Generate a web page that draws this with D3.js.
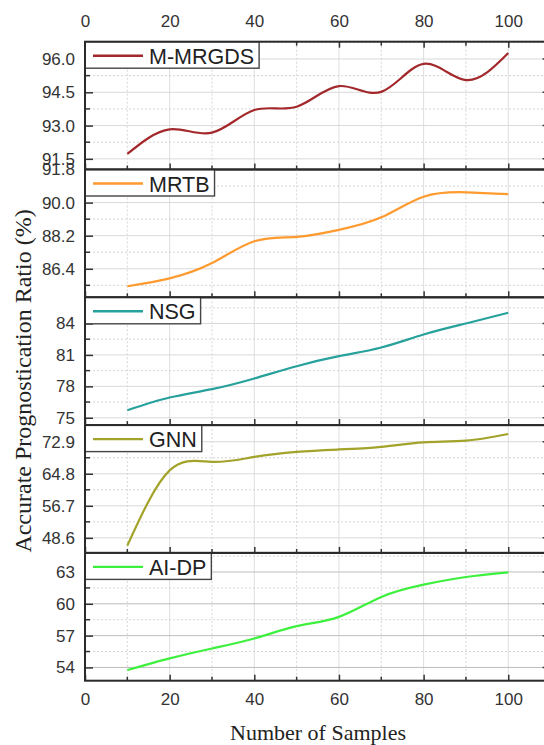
<!DOCTYPE html>
<html>
<head>
<meta charset="utf-8">
<script src="https://cdn.jsdelivr.net/npm/d3@7"></script>
<style>
  html, body { margin: 0; padding: 0; background: #fff; }
  svg { display: block; }
</style>
</head>
<body>
<div id="chart"></div>
<script>
// ---------------- data ----------------
const samples = [10, 20, 30, 40, 50, 60, 70, 80, 90, 100];
const xTickLabels = [0, 20, 40, 60, 80, 100];

const seriesNames = ["M-MRGDS", "MRTB", "NSG", "GNN", "AI-DP"];
const seriesColors = ["#a3282b", "#ff9a2e", "#27a19c", "#a3a22a", "#3ef03e"];

const mmrgds = [91.72, 92.83, 92.68, 93.70, 93.85, 94.78, 94.52, 95.78, 95.05, 96.27];
const mrtb   = [85.45, 85.88, 86.71, 87.90, 88.14, 88.52, 89.20, 90.32, 90.56, 90.46];
const nsg    = [75.72, 76.93, 77.73, 78.75, 79.92, 80.88, 81.71, 82.95, 84.00, 85.02];
const gnn    = [46.64, 65.65, 67.80, 69.06, 70.34, 70.94, 71.62, 72.73, 73.16, 74.86];
const aidp   = [53.75, 54.85, 55.79, 56.73, 57.89, 58.77, 60.65, 61.81, 62.53, 62.97];
const seriesValues = [mmrgds, mrtb, nsg, gnn, aidp];

const yTicks1 = [91.5, 93.0, 94.5, 96.0];
const yTicks2 = [86.4, 88.2, 90.0, 91.8];
const yTicks3 = [75, 78, 81, 84];
const yTicks4 = [48.6, 56.7, 64.8, 72.9];
const yTicks5 = [54, 57, 60, 63];
const yTicks = [yTicks1, yTicks2, yTicks3, yTicks4, yTicks5];
const yTickFormats = [".1f", ".1f", "d", ".1f", "d"];

const yDomain1 = [91.02, 96.78];
const yDomain2 = [84.85, 91.8];
const yDomain3 = [74.3, 86.5];
const yDomain4 = [44.8, 77.1];
const yDomain5 = [52.75, 64.8];
const yDomains = [yDomain1, yDomain2, yDomain3, yDomain4, yDomain5];

const xTitle = "Number of Samples";
const yTitle = "Accurate Prognostication Ratio (%)";

// ---------------- layout ----------------
const W = 544, H = 745;
const left = 85, right = 550.6;
const top0 = 41.7, panelH = 127.8;
const nP = seriesNames.length;
const sans = "Arial, 'Liberation Sans', sans-serif";
const serif = "'Liberation Serif', 'Times New Roman', serif";

const svg = d3.select("#chart").append("svg")
  .attr("width", W).attr("height", H)
  .style("font-family", sans);

const x = d3.scaleLinear().domain([0, 110]).range([left, right]);
const xMajor = d3.range(0, 111, 20);
const xMinor = d3.range(10, 111, 20);

const tickColor = "#333";

for (let i = 0; i < nP; i++) {
  const pTop = top0 + i * panelH;
  const pBot = pTop + panelH;
  const y = d3.scaleLinear().domain(yDomains[i]).range([pBot, pTop]);
  const g = svg.append("g");
  const ticks = yTicks[i];
  const step = ticks[1] - ticks[0];
  const minors = [];
  for (let k = -2; k < ticks.length + 2; k++) {
    const v = ticks[0] + (k + 0.5) * step;
    if (v > yDomains[i][0] && v < yDomains[i][1]) minors.push(v);
  }
  const gridCol = i === 4 ? "#bdbdbd" : "#d9d9d9";

  // vertical grid
  g.selectAll(".vgM").data(xMajor.filter(d => d > 0 && d < 110)).enter().append("line")
    .attr("x1", d => x(d)).attr("x2", d => x(d)).attr("y1", pTop).attr("y2", pBot)
    .attr("stroke", "#dedede").attr("stroke-width", 1);
  g.selectAll(".vgm").data(xMinor.filter(d => d < 110)).enter().append("line")
    .attr("x1", d => x(d)).attr("x2", d => x(d)).attr("y1", pTop).attr("y2", pBot)
    .attr("stroke", "#d6d6d6").attr("stroke-width", 1).attr("stroke-dasharray", "2,2");
  // horizontal grid
  g.selectAll(".hgM").data(ticks.filter(v => v > yDomains[i][0] && v < yDomains[i][1] - 0.01)).enter().append("line")
    .attr("x1", left).attr("x2", right).attr("y1", d => y(d)).attr("y2", d => y(d))
    .attr("stroke", gridCol).attr("stroke-width", 1);
  g.selectAll(".hgm").data(minors).enter().append("line")
    .attr("x1", left).attr("x2", right).attr("y1", d => y(d)).attr("y2", d => y(d))
    .attr("stroke", "#d6d6d6").attr("stroke-width", 1).attr("stroke-dasharray", "2,2");

  // line
  const line = d3.line().x((d, j) => x(samples[j])).y(d => y(d)).curve(d3.curveNatural);
  g.append("path").datum(seriesValues[i])
    .attr("d", line).attr("fill", "none")
    .attr("stroke", seriesColors[i]).attr("stroke-width", 2.2);

  // left axis (ticks inward)
  const yAxisL = d3.axisLeft(y).tickValues(ticks).tickSize(-8).tickPadding(10)
    .tickFormat(d3.format(yTickFormats[i]));
  const gl = g.append("g").attr("transform", `translate(${left},0)`).call(yAxisL);
  gl.select(".domain").remove();
  gl.selectAll(".tick line").attr("stroke", tickColor).attr("stroke-width", 1.5);
  gl.selectAll(".tick text").attr("font-size", 17).attr("fill", "#333").attr("font-family", sans);
  g.selectAll(".ymin").data(minors).enter().append("line")
    .attr("x1", left).attr("x2", left + 5).attr("y1", d => y(d)).attr("y2", d => y(d))
    .attr("stroke", tickColor).attr("stroke-width", 1.5);
  // right axis ticks inward
  g.selectAll(".yr").data(ticks).enter().append("line")
    .attr("x1", right).attr("x2", right - 8).attr("y1", d => y(d)).attr("y2", d => y(d))
    .attr("stroke", tickColor).attr("stroke-width", 1.5);

  // bottom axis ticks (inward, up)
  const xAxisB = d3.axisBottom(x).tickValues(xMajor).tickSize(-6).tickPadding(12)
    .tickFormat(i === nP - 1 ? d3.format("d") : "");
  const gb = g.append("g").attr("transform", `translate(0,${pBot})`).call(xAxisB);
  gb.select(".domain").remove();
  gb.selectAll(".tick line").attr("stroke", tickColor).attr("stroke-width", 1.5);
  gb.selectAll(".tick text").attr("font-size", 17).attr("fill", "#333").attr("font-family", sans);
  gb.selectAll(".tick").filter(d => d > 100).select("text").remove();
  g.selectAll(".xminB").data(xMinor).enter().append("line")
    .attr("x1", d => x(d)).attr("x2", d => x(d)).attr("y1", pBot).attr("y2", pBot - 4)
    .attr("stroke", tickColor).attr("stroke-width", 1.5);

  if (i === 0) {
    const xAxisT = d3.axisTop(x).tickValues(xMajor).tickSize(-6).tickPadding(15)
      .tickFormat(d3.format("d"));
    const gt = g.append("g").attr("transform", `translate(0,${pTop})`).call(xAxisT);
    gt.select(".domain").remove();
    gt.selectAll(".tick line").attr("stroke", tickColor).attr("stroke-width", 1.5);
    gt.selectAll(".tick text").attr("font-size", 17).attr("fill", "#333").attr("font-family", sans);
    gt.selectAll(".tick").filter(d => d > 100).select("text").remove();
    g.selectAll(".xminT").data(xMinor).enter().append("line")
      .attr("x1", d => x(d)).attr("x2", d => x(d)).attr("y1", pTop).attr("y2", pTop + 4)
      .attr("stroke", tickColor).attr("stroke-width", 1.5);
  }

  // legend
  const lg = g.append("g");
  const txt = lg.append("text").attr("x", left + 64).attr("y", pTop + 22)
    .attr("font-size", 21.5).attr("fill", "#222").attr("font-family", sans)
    .text(seriesNames[i]);
  const tw = txt.node().getComputedTextLength();
  lg.insert("rect", "text").attr("x", left).attr("y", pTop)
    .attr("width", 64 + tw + 5).attr("height", 26.5)
    .attr("fill", "#fff").attr("stroke", "#444").attr("stroke-width", 1.4);
  lg.append("line").attr("x1", left + 8).attr("x2", left + 58)
    .attr("y1", pTop + 14).attr("y2", pTop + 14)
    .attr("stroke", seriesColors[i]).attr("stroke-width", 2.4);

  // frame
  g.append("rect").attr("x", left).attr("y", pTop).attr("width", right - left).attr("height", panelH)
    .attr("fill", "none").attr("stroke", "#2a2a2a").attr("stroke-width", 2);
}

// titles
svg.append("text").attr("x", 318).attr("y", 740).attr("text-anchor", "middle")
  .attr("font-family", serif).attr("font-size", 22)
  .attr("fill", "#222").text(xTitle);
svg.append("text").attr("transform", "translate(31,381) rotate(-90)").attr("text-anchor", "middle")
  .attr("font-family", serif).attr("font-size", 24)
  .attr("fill", "#222").text(yTitle);
</script>
</body>
</html>
